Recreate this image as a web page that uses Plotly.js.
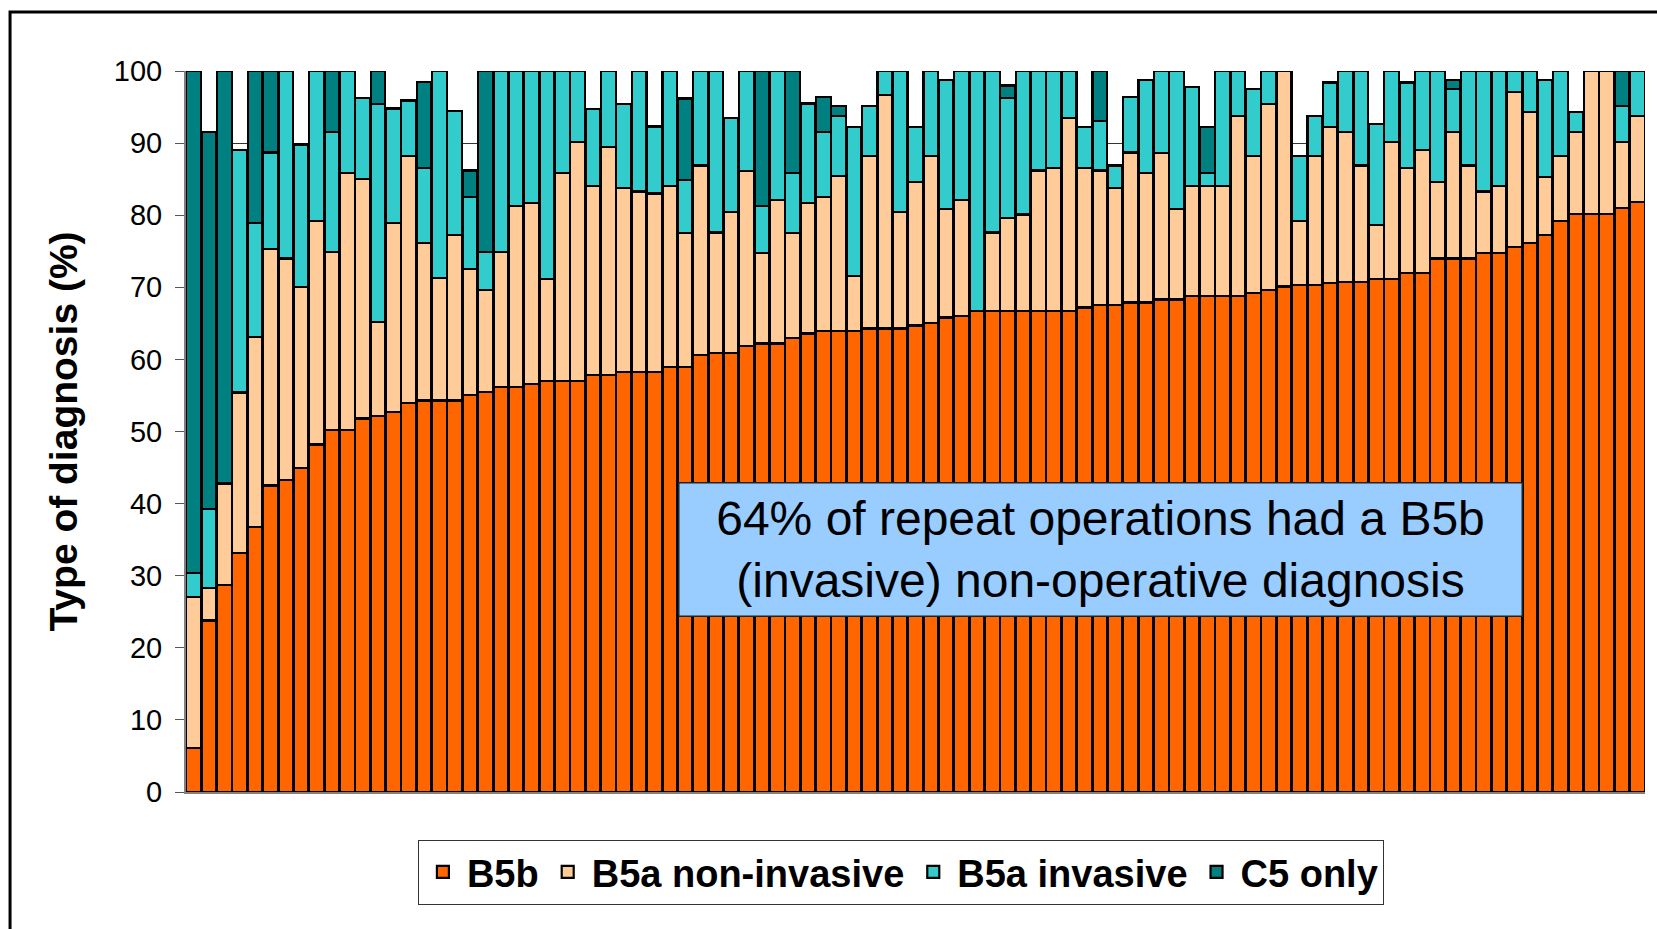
<!DOCTYPE html>
<html>
<head>
<meta charset="utf-8">
<script src="https://cdn.plot.ly/plotly-3.0.1.min.js"></script>
<style>
  body { margin: 0; background: #fff; }
  #chart { width: 1657px; height: 929px; }
</style>
</head>
<body>
<div id="chart"></div>
<script>
// one bar per repeat operation, sorted by B5b share
var cases = [];
for (var i = 1; i <= 95; i++) cases.push(i);

// B5b (%)
var b5b = [
  6.1, 23.8, 28.7, 33.2, 36.8, 42.5, 43.3, 44.9, 48.2, 50.2,
  50.2, 51.8, 52.2, 52.7, 53.9, 54.3, 54.3, 54.3, 55.1, 55.5,
  56.2, 56.2, 56.6, 57.0, 57.0, 57.0, 57.8, 57.8, 58.3, 58.3,
  58.3, 59.0, 59.0, 60.6, 60.9, 60.9, 61.9, 62.2, 62.2, 63.0,
  63.6, 63.9, 63.9, 63.9, 64.3, 64.3, 64.3, 64.7, 65.1, 65.8,
  66.0, 66.7, 66.7, 66.7, 66.7, 66.7, 66.7, 66.7, 67.2, 67.6,
  67.6, 67.9, 67.9, 68.3, 68.3, 68.8, 68.8, 68.8, 68.8, 69.2,
  69.6, 70.1, 70.3, 70.3, 70.6, 70.7, 70.7, 71.2, 71.2, 72.0,
  72.0, 74.0, 74.0, 74.0, 74.8, 74.8, 75.6, 76.1, 77.3, 79.2,
  80.2, 80.2, 80.2, 81.0, 81.8
];

// B5a non-invasive (%)
var b5aNonInv = [
  21.0, 4.5, 14.1, 22.2, 26.3, 32.8, 30.7, 25.1, 31.0, 24.7,
  35.6, 33.2, 13.0, 26.2, 34.3, 21.8, 17.0, 23.0, 17.4, 14.1,
  18.7, 25.1, 25.1, 14.2, 28.8, 33.2, 26.3, 31.7, 25.5, 25.0,
  24.7, 25.1, 18.5, 26.3, 16.7, 19.6, 24.2, 12.6, 19.9, 14.5,
  18.1, 18.6, 21.5, 7.7, 23.9, 32.4, 16.2, 19.9, 23.1, 15.1,
  16.1, 0, 10.9, 12.9, 13.4, 19.5, 19.8, 26.8, 19.3, 18.6,
  16.2, 20.8, 17.9, 20.3, 12.6, 15.3, 15.3, 15.3, 25.0, 19.0,
  25.8, 29.9, 8.9, 17.9, 21.6, 20.8, 16.2, 7.4, 19.0, 14.5,
  17.0, 10.6, 17.5, 12.9, 8.5, 9.3, 21.5, 18.2, 8.0, 9.0,
  11.3, 19.8, 19.8, 9.2, 12.0
];

// B5a invasive (%)
var b5aInv = [
  3.3, 10.9, 0, 33.6, 15.8, 13.4, 26.0, 19.8, 20.8, 16.6,
  14.2, 11.3, 30.2, 15.9, 7.7, 10.4, 28.7, 17.1, 10.0, 5.3,
  25.1, 18.7, 18.3, 28.8, 14.2, 9.8, 10.6, 10.5, 11.6, 16.7,
  9.3, 15.9, 7.4, 13.1, 22.4, 13.0, 13.9, 6.5, 17.9, 8.3,
  13.8, 9.0, 8.4, 20.6, 6.9, 3.3, 19.5, 7.6, 11.8, 17.9,
  17.9, 33.3, 22.4, 16.7, 19.9, 13.8, 13.5, 6.5, 5.7, 6.9,
  3.1, 7.7, 13.0, 11.4, 19.1, 13.7, 1.7, 15.9, 6.2, 9.3,
  4.6, 0, 9.0, 5.6, 6.2, 8.5, 13.1, 14.0, 9.8, 11.9,
  11.0, 15.4, 6.0, 13.1, 16.7, 15.9, 2.9, 5.7, 13.4, 11.8,
  2.8, 0, 0, 4.9, 6.2
];

// C5 only (%)
var c5Only = [
  69.6, 52.3, 57.2, 0, 21.1, 11.3, 0, 0, 0, 8.5,
  0, 0, 4.6, 0, 0, 12.0, 0, 0, 3.7, 25.1,
  0, 0, 0, 0, 0, 0, 0, 0, 0, 0,
  0, 0, 11.3, 0, 0, 0, 0, 18.7, 0, 14.2,
  0, 4.9, 1.3, 0, 0, 0, 0, 0, 0, 0,
  0, 0, 0, 1.7, 0, 0, 0, 0, 0, 6.9,
  0, 0, 0, 0, 0, 0, 6.4, 0, 0, 0,
  0, 0, 0, 0, 0, 0, 0, 0, 0, 0,
  0, 0, 1.3, 0, 0, 0, 0, 0, 0, 0,
  0, 0, 0, 4.9, 0
];

var seriesNames = ['B5b', 'B5a non-invasive', 'B5a invasive', 'C5 only'];
var seriesColours = ['#FF6600', '#FFCC99', '#33CCCC', '#008080'];
var seriesValues = [b5b, b5aNonInv, b5aInv, c5Only];

var font = 'Liberation Sans, Arial, sans-serif';

// build one stacked trace per diagnosis type
var plot_data = [];
for (var s = 0; s < seriesNames.length; s++) {
  plot_data.push({
    type: 'bar',
    name: seriesNames[s],
    x: cases,
    y: seriesValues[s],
    marker: {color: seriesColours[s], line: {color: '#000000', width: 2.2}},
    hoverinfo: 'name+y'
  });
}

var layout = {
  width: 1657,
  height: 929,
  barmode: 'stack',
  bargap: 0.04,
  margin: {l: 186, r: 12, t: 71, b: 137},
  paper_bgcolor: '#ffffff',
  plot_bgcolor: '#ffffff',
  font: {family: font, color: '#000000'},
  showlegend: true,
  legend: {
    orientation: 'h',
    x: 0.49, xanchor: 'center',
    y: -0.066, yanchor: 'top',
    bordercolor: '#333333',
    borderwidth: 1,
    bgcolor: '#ffffff',
    itemwidth: 38,
    font: {family: font, size: 38, weight: 'bold', color: '#000000'},
    traceorder: 'normal'
  },
  xaxis: {
    range: [0.5, 95.5],
    showticklabels: false,
    ticks: '',
    showgrid: false,
    zeroline: false,
    showline: true,
    linecolor: '#808080',
    linewidth: 2
  },
  yaxis: {
    range: [0, 100],
    dtick: 10,
    ticks: 'outside',
    ticklen: 9,
    tickcolor: '#555555',
    ticklabelstandoff: 7,
    tickfont: {family: font, size: 29, color: '#000000'},
    showgrid: true,
    gridcolor: '#333333',
    gridwidth: 1,
    zeroline: false,
    showline: true,
    linecolor: '#808080',
    linewidth: 2,
    title: {
      text: 'Type of diagnosis (%)',
      standoff: 24,
      font: {family: font, size: 39, weight: 'bold', color: '#000000'}
    }
  },
  annotations: [{
    xref: 'paper', yref: 'paper',
    x: 0.6265, y: 0.337,
    xanchor: 'center', yanchor: 'middle',
    text: '64% of repeat operations had a B5b<br>(invasive) non-operative diagnosis',
    showarrow: false,
    font: {family: font, size: 48, color: '#000000'},
    bgcolor: '#99CCFF',
    bordercolor: '#222222',
    borderwidth: 1.5,
    width: 840,
    height: 130,
    align: 'center'
  }],
  shapes: [{
    // outer chart frame, running off the right and bottom edges
    type: 'rect', xref: 'paper', yref: 'paper',
    x0: -0.1206, x1: 1.2, y0: -0.4, y1: 1.0818,
    line: {color: '#000000', width: 3},
    layer: 'below'
  }]
};

Plotly.newPlot('chart', plot_data, layout, {staticPlot: true});
</script>
</body>
</html>
